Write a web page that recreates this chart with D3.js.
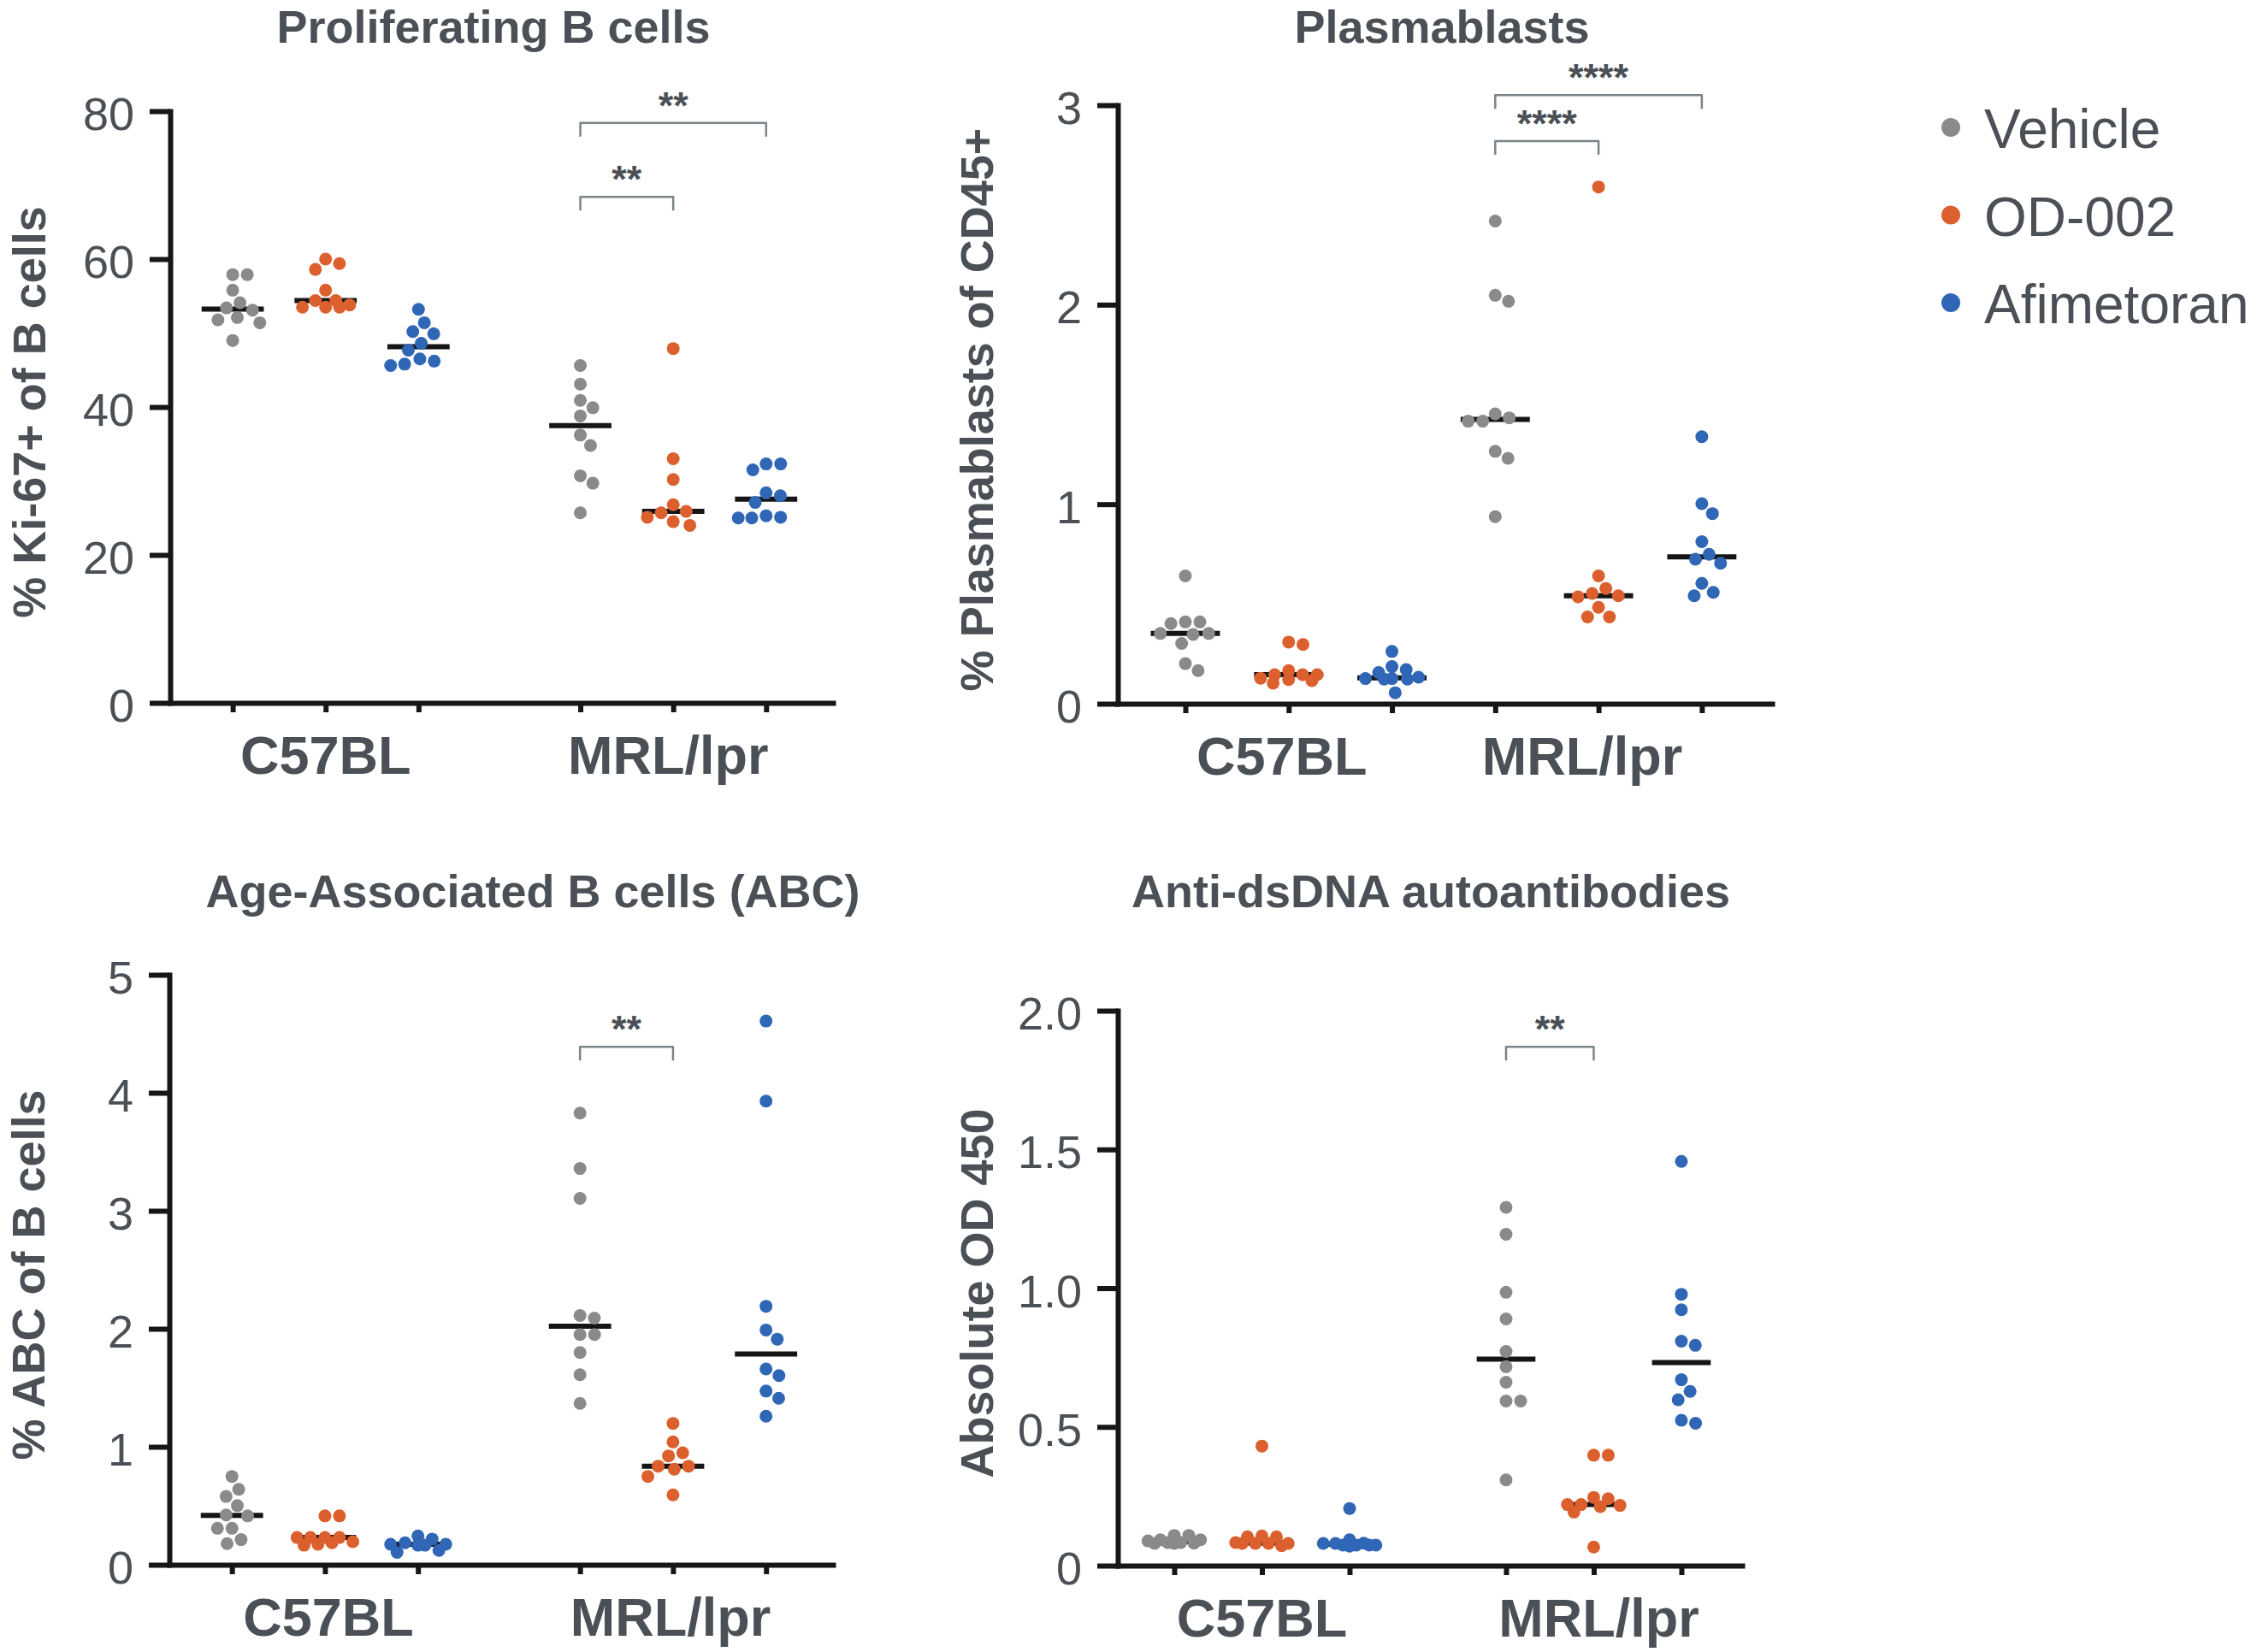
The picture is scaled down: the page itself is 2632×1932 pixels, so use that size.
<!DOCTYPE html>
<html>
<head>
<meta charset="utf-8">
<script src="https://cdn.jsdelivr.net/npm/d3@7"></script>
<style>
  body { margin: 0; background: #fff; }
  text { font-family: "Liberation Sans", Arial, Helvetica, sans-serif; fill: #4a5055; }
  .axis .domain { stroke: #161616; stroke-width: 6; stroke-linecap: square; }
  .axis .tick line { stroke: #161616; stroke-width: 6; }
  .axis .tick text { font-size: 54px; fill: #4a5055; }
  .title { font-size: 54px; font-weight: bold; }
  .ylab { font-size: 54px; font-weight: bold; }
  .strain { font-size: 63px; font-weight: bold; }
  .stars { font-size: 45px; font-weight: bold; }
  .legend text { font-size: 64px; }
</style>
</head>
<body>
<div id="chart"></div>
<script>
// groups and categories
const treatments = ["Vehicle", "OD-002", "Afimetoran"];
const strains = ["C57BL", "MRL/lpr"];
const treatmentColors = ["#8a8a8a", "#dc602e", "#2f66b6"];

// one list per column: C57BL Vehicle, OD-002, Afimetoran, then MRL/lpr Vehicle, OD-002, Afimetoran
const prolifValues = [
  [57.9, 57.9, 55.8, 54.1, 53.4, 53.1, 52.1, 51.8, 51.4, 49.0],
  [60.0, 59.4, 58.6, 55.8, 54.4, 54.4, 53.8, 53.5, 53.5, 53.5],
  [53.2, 51.4, 50.2, 49.9, 48.6, 47.7, 46.5, 46.2, 45.8, 45.6],
  [45.6, 43.1, 40.9, 39.9, 38.8, 36.2, 34.8, 30.7, 29.7, 25.7],
  [47.9, 33.0, 30.2, 26.8, 25.9, 25.7, 25.1, 24.5, 24.0],
  [32.3, 32.3, 31.5, 28.4, 28.0, 27.1, 25.3, 25.1, 25.0, 25.0]
];
const plasmaValues = [
  [0.641, 0.410, 0.410, 0.402, 0.352, 0.352, 0.347, 0.302, 0.201, 0.166],
  [0.309, 0.297, 0.166, 0.146, 0.146, 0.146, 0.128, 0.121, 0.116, 0.103],
  [0.262, 0.186, 0.171, 0.156, 0.133, 0.126, 0.126, 0.123, 0.123, 0.055],
  [2.419, 2.047, 2.017, 1.453, 1.433, 1.416, 1.416, 1.265, 1.230, 0.938],
  [2.59, 0.641, 0.578, 0.553, 0.541, 0.536, 0.483, 0.435, 0.435],
  [1.338, 1.003, 0.953, 0.812, 0.749, 0.724, 0.704, 0.603, 0.558, 0.541]
];
const abcValues = [
  [0.749, 0.640, 0.579, 0.501, 0.422, 0.414, 0.309, 0.309, 0.213, 0.179],
  [0.414, 0.414, 0.231, 0.231, 0.231, 0.231, 0.196, 0.187, 0.174, 0.166],
  [0.244, 0.218, 0.187, 0.174, 0.174, 0.166, 0.166, 0.122, 0.105],
  [3.828, 3.358, 3.105, 2.112, 2.091, 1.951, 1.951, 1.799, 1.611, 1.368],
  [1.198, 1.041, 0.949, 0.923, 0.836, 0.836, 0.810, 0.749, 0.592],
  [4.608, 3.929, 2.191, 1.990, 1.912, 1.659, 1.603, 1.472, 1.411, 1.259]
];
const dsdnaValues = [
  [0.109, 0.109, 0.093, 0.093, 0.089, 0.083, 0.083, 0.081, 0.080, 0.080],
  [0.431, 0.107, 0.104, 0.104, 0.083, 0.080, 0.080, 0.080, 0.080, 0.072],
  [0.206, 0.093, 0.081, 0.080, 0.080, 0.074, 0.074, 0.074, 0.074, 0.070],
  [1.291, 1.194, 0.985, 0.889, 0.772, 0.717, 0.661, 0.593, 0.593, 0.309],
  [0.398, 0.398, 0.246, 0.241, 0.220, 0.220, 0.217, 0.213, 0.193, 0.067],
  [1.457, 0.978, 0.922, 0.809, 0.794, 0.670, 0.628, 0.598, 0.524, 0.513]
];

const panelTitles = ["Proliferating B cells", "Plasmablasts", "Age-Associated B cells (ABC)", "Anti-dsDNA autoantibodies"];
const yAxisLabels = ["% Ki-67+ of B cells", "% Plasmablasts of CD45+", "% ABC of B cells", "Absolute OD 450"];
const yTickValues = [[0, 20, 40, 60, 80], [0, 1, 2, 3], [0, 1, 2, 3, 4, 5], [0, 0.5, 1, 1.5, 2]];
const yTickLabels = [["0", "20", "40", "60", "80"], ["0", "1", "2", "3"], ["0", "1", "2", "3", "4", "5"], ["0", "0.5", "1.0", "1.5", "2.0"]];
const panelValues = [prolifValues, plasmaValues, abcValues, dsdnaValues];

// significance brackets: column indexes, height in data units, label
const sigBrackets = [
  [{from: 3, to: 4, level: 68.4, label: "**"}, {from: 3, to: 5, level: 78.4, label: "**"}],
  [{from: 3, to: 4, level: 2.82, label: "****"}, {from: 3, to: 5, level: 3.05, label: "****"}],
  [{from: 3, to: 4, level: 4.39, label: "**"}],
  [{from: 3, to: 4, level: 1.87, label: "**"}]
];

// where each panel sits on the page
const layouts = [
  {left: 199, right: 974, top: 130, bottom: 822, gap: 0.742, padL: 0.673, padR: 0.72, titleX: 577, titleY: 50, strainDx: [0, -6]},
  {left: 1307, right: 2072, top: 123, bottom: 823, gap: 0, padL: 0.654, padR: 0.68, titleX: 1686, titleY: 50, strainDx: [-8, -19]},
  {left: 198, right: 974, top: 1140, bottom: 1830, gap: 0.742, padL: 0.673, padR: 0.72, titleX: 623, titleY: 1061, strainDx: [4, -3]},
  {left: 1307, right: 2037, top: 1182, bottom: 1831, gap: 0.785, padL: 0.644, padR: 0.693, titleX: 1673, titleY: 1061, strainDx: [0, 6]}
];

const W = 2632, H = 1932;
const dotR = 7.5;

const svg = d3.select("#chart").append("svg")
    .attr("width", W)
    .attr("height", H);
svg.append("rect").attr("width", W).attr("height", H).attr("fill", "#fff");

// simple beeswarm so the dots of one column do not sit on each other
function swarm(vals, y, r, maxW) {
    const d = 2 * r + 2;
    const pts = vals.map(v => ({v: v, y: y(v), x: 0})).sort((a, b) => a.y - b.y);
    const placed = [];
    pts.forEach(p => {
        let cands = [0];
        placed.forEach(q => {
            const dy = Math.abs(p.y - q.y);
            if (dy < d) {
                const dx = Math.sqrt(d * d - dy * dy);
                cands.push(q.x + dx, q.x - dx);
            }
        });
        cands = cands.filter(c => Math.abs(c) <= maxW + 0.01)
            .sort((a, b) => Math.abs(a) - Math.abs(b));
        const minDist = c => placed.length ? d3.min(placed, q => Math.hypot(c - q.x, p.y - q.y)) : Infinity;
        let best = cands.find(c => minDist(c) >= d - 0.01);
        if (best === undefined) {
            const grid = d3.range(-maxW, maxW + 0.1, maxW / 4);
            best = d3.greatest(grid, c => minDist(c));
        }
        p.x = best;
        placed.push(p);
    });
    return pts;
}

function drawPanel(p) {
    const L = layouts[p];
    const g = svg.append("g");

    const y = d3.scaleLinear()
        .domain([0, d3.max(yTickValues[p])])
        .range([L.bottom, L.top]);
    const xi = d3.scaleLinear()
        .domain([-L.padL, 5 + L.gap + L.padR])
        .range([L.left, L.right]);
    const colPos = i => i + (i >= 3 ? L.gap : 0);
    const colX = i => xi(colPos(i));
    const step = xi(1) - xi(0);

    // x axis
    g.append("g").attr("class", "axis")
        .attr("transform", `translate(0,${L.bottom})`)
        .call(d3.axisBottom(xi).tickValues(d3.range(6).map(colPos)).tickFormat("").tickSize(11).tickSizeOuter(0));

    // y axis
    g.append("g").attr("class", "axis")
        .attr("transform", `translate(${L.left},0)`)
        .call(d3.axisLeft(y)
            .tickValues(yTickValues[p])
            .tickFormat((d, i) => yTickLabels[p][i])
            .tickSize(24).tickPadding(18).tickSizeOuter(0))
        .selectAll(".tick text").attr("dy", "0.4em");

    // medians
    panelValues[p].forEach((vals, i) => {
        const m = d3.median(vals);
        g.append("line")
            .attr("x1", colX(i) - step * 0.335)
            .attr("x2", colX(i) + step * 0.335)
            .attr("y1", y(m)).attr("y2", y(m))
            .attr("stroke", "#151515")
            .attr("stroke-width", 6);
    });

    // dots
    panelValues[p].forEach((vals, i) => {
        const pts = swarm(vals, y, dotR, step * 0.3);
        g.append("g").selectAll("circle").data(pts).enter()
            .append("circle")
            .attr("cx", d => colX(i) + d.x)
            .attr("cy", d => d.y)
            .attr("r", dotR)
            .attr("fill", treatmentColors[i % 3]);
    });

    // brackets
    sigBrackets[p].forEach(b => {
        const x1 = colX(b.from), x2 = colX(b.to), yb = y(b.level);
        g.append("path")
            .attr("d", `M${x1},${yb + 16}V${yb}H${x2}V${yb + 16}`)
            .attr("fill", "none")
            .attr("stroke", "#7a8489")
            .attr("stroke-width", 2.5)
            .attr("stroke-linejoin", "round");
        g.append("text")
            .attr("class", "stars")
            .attr("x", (x1 + x2) / 2)
            .attr("y", yb - 5)
            .attr("text-anchor", "middle")
            .text(b.label);
    });

    // strain labels
    strains.forEach((s, k) => {
        const cx = (colX(k * 3) + colX(k * 3 + 2)) / 2 + L.strainDx[k];
        g.append("text")
            .attr("class", "strain")
            .attr("x", cx)
            .attr("y", L.bottom + 83)
            .attr("text-anchor", "middle")
            .text(s);
    });

    // title
    g.append("text")
        .attr("class", "title")
        .attr("x", L.titleX)
        .attr("y", L.titleY)
        .attr("text-anchor", "middle")
        .text(panelTitles[p]);

    // y label
    const cy = (L.top + L.bottom) / 2 + 6;
    g.append("text")
        .attr("class", "ylab")
        .attr("transform", `translate(${L.left - 146},${cy}) rotate(-90)`)
        .attr("text-anchor", "middle")
        .text(yAxisLabels[p]);
}

d3.range(4).forEach(drawPanel);

// legend
const legend = svg.append("g").attr("class", "legend");
const legendY = d3.scalePoint().domain(treatments).range([173, 378]);
treatments.forEach((t, i) => {
    legend.append("circle")
        .attr("cx", 2281)
        .attr("cy", legendY(t) - 24)
        .attr("r", 11)
        .attr("fill", treatmentColors[i]);
    legend.append("text")
        .attr("x", 2320)
        .attr("y", legendY(t))
        .text(t);
});
</script>
</body>
</html>
